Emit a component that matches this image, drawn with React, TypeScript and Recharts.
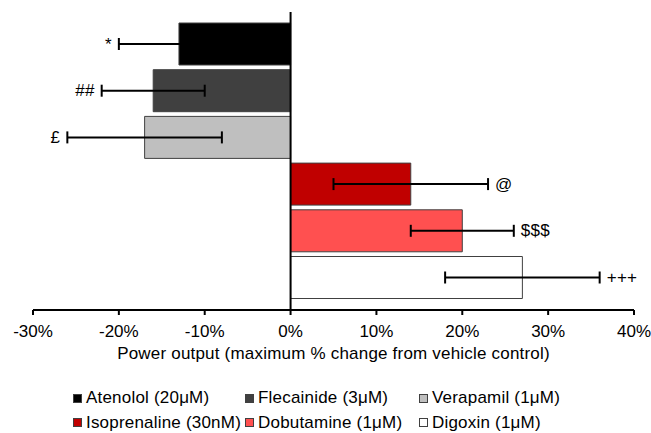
import React from 'react';
import { BarChart, Bar, XAxis, YAxis, ErrorBar, LabelList, ReferenceLine } from 'recharts';

const categories = ['Power output'];
const seriesNames = ['Atenolol (20μM)', 'Flecainide (3μM)', 'Verapamil (1μM)', 'Isoprenaline (30nM)', 'Dobutamine (1μM)', 'Digoxin (1μM)'];
const seriesKeys = ['atenolol', 'flecainide', 'verapamil', 'isoprenaline', 'dobutamine', 'digoxin'];
const meanValues = [-13, -16, -17, 14, 20, 27];
const errorValues = [7, 6, 9, 9, 6, 9];
const significance = ['*', '##', '£', '@', '$$$', '+++'];
const colors = ['#000000', '#404040', '#bfbfbf', '#c00000', '#ff5050', '#ffffff'];
const xTicks = [-30, -20, -10, 0, 10, 20, 30, 40];
const xTitle = 'Power output (maximum % change from vehicle control)';

const row: Record<string, any> = { name: categories[0] };
seriesKeys.forEach((k, i) => {
  row[k] = meanValues[i];
  row[k + 'Err'] = errorValues[i];
});
const data = [row];

const FONT = '"Liberation Sans", Arial, sans-serif';

const makeLabel = (i: number) => (props: any) => {
  const x = Number(props.x);
  const w = Number(props.width);
  const y = Number(props.y);
  const h = Number(props.height);
  const v = meanValues[i];
  const e = errorValues[i];
  const lo = Math.min(x, x + w);
  const hi = Math.max(x, x + w);
  const ppu = (hi - lo) / Math.abs(v);
  const cy = y + h / 2;
  const gap = 7;
  const common = { dominantBaseline: 'central' as const, fontSize: 17, fontFamily: FONT, fill: '#000', letterSpacing: 0.3 };
  if (v < 0) {
    const ex = lo - e * ppu;
    return (
      <text x={ex - gap} y={cy} textAnchor="end" {...common}>
        {significance[i]}
      </text>
    );
  }
  const ex = hi + e * ppu;
  return (
    <text x={ex + gap} y={cy} textAnchor="start" {...common}>
      {significance[i]}
    </text>
  );
};

const legendCols = [73, 245, 419];

export default function App() {
  return (
    <div style={{ position: 'absolute', left: 0, top: 0, width: 651, height: 433, background: '#fff', fontFamily: FONT }}>
      <BarChart
        width={651}
        height={433}
        data={data}
        layout="vertical"
        margin={{ top: 12, right: 17, left: 33, bottom: 63 }}
        barGap={4.7}
      >
        <XAxis
          type="number"
          domain={[-30, 40]}
          ticks={xTicks}
          interval={0}
          tickFormatter={(v: number) => `${v}%`}
          axisLine={{ stroke: '#000', strokeWidth: 2 }}
          tickLine={{ stroke: '#000', strokeWidth: 2 }}
          tickSize={5}
          tickMargin={10}
          height={60}
          tick={{ fill: '#000', fontSize: 17, fontFamily: FONT }}
          label={{ value: xTitle, position: 'insideBottom', offset: 11, fill: '#000', fontSize: 17, fontFamily: FONT, letterSpacing: 0.2 }}
        />
        <YAxis type="category" dataKey="name" hide />
        {seriesKeys.map((k, i) => (
          <Bar
            key={k}
            dataKey={k}
            name={seriesNames[i]}
            fill={colors[i]}
            stroke="#404040"
            strokeWidth={1}
            barSize={42}
            isAnimationActive={false}
          >
            <ErrorBar dataKey={k + 'Err'} direction="x" width={6} stroke="#000" strokeWidth={2} />
            <LabelList dataKey={k} content={makeLabel(i)} />
          </Bar>
        ))}
        <ReferenceLine x={0} stroke="#000" strokeWidth={2} />
      </BarChart>
      {seriesNames.map((n, i) => {
        const col = i % 3;
        const r = Math.floor(i / 3);
        return (
          <div
            key={n}
            style={{
              position: 'absolute',
              left: legendCols[col],
              top: 398 + r * 24.5 - 10,
              height: 20,
              display: 'flex',
              alignItems: 'center',
              fontSize: 17,
              letterSpacing: 0.2,
              color: '#000',
              whiteSpace: 'nowrap',
              lineHeight: '20px',
            }}
          >
            <span
              style={{
                display: 'inline-block',
                width: 7,
                height: 7,
                background: colors[i],
                border: '1px solid #404040',
                marginRight: 4,
              }}
            />
            {n}
          </div>
        );
      })}
    </div>
  );
}
